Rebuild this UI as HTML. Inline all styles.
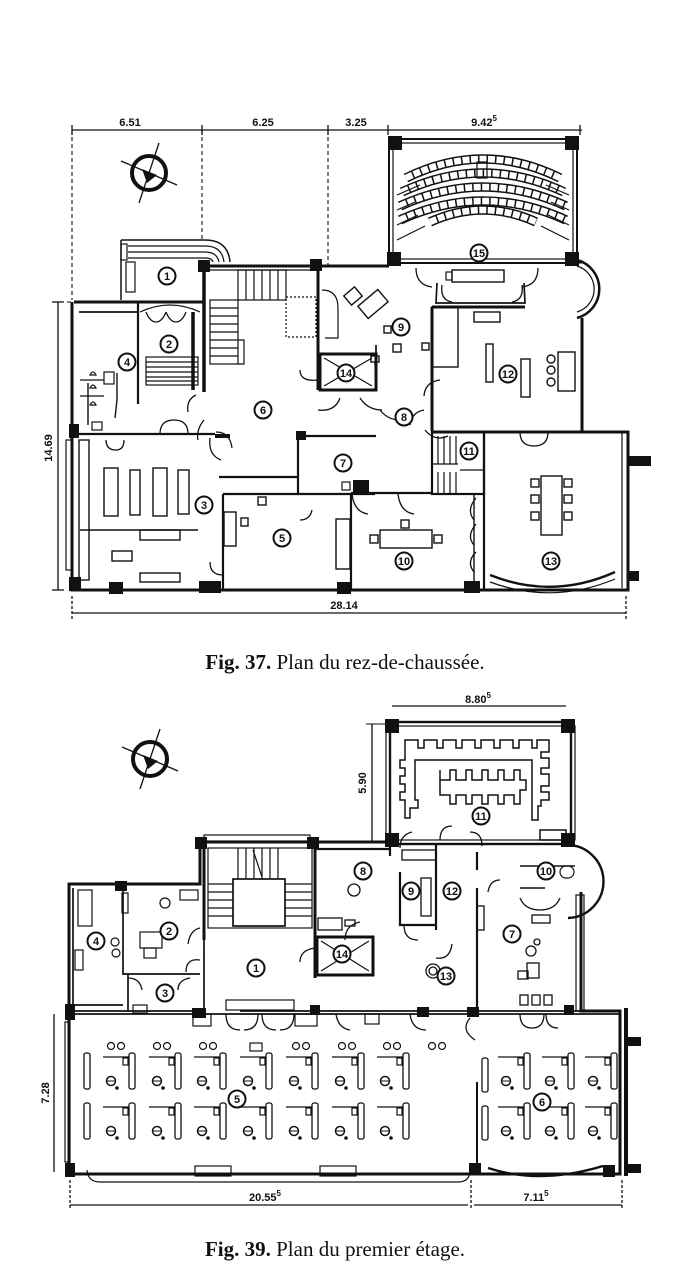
<!DOCTYPE html>
<html><head><meta charset="utf-8"><style>
html,body{margin:0;padding:0;background:#fff;}
svg{display:block}
text{font-family:"Liberation Sans",sans-serif;fill:#111}
.n{font-size:11px;font-weight:bold;text-anchor:middle}
.d{font-size:11px;font-weight:bold;text-anchor:middle}
.cap{font-family:"Liberation Serif",serif;font-size:21px;text-anchor:middle}
</style></head><body>
<svg width="700" height="1286" viewBox="0 0 700 1286" xmlns="http://www.w3.org/2000/svg">
<defs>
<g id="rn"><circle r="8.5" fill="#fff" stroke="#111" stroke-width="2"/></g>
<g id="compass"><circle r="17" fill="#fff" stroke="#111" stroke-width="4"/><line x1="-28" y1="-12" x2="28" y2="12" stroke="#111" stroke-width="1.3"/><line x1="10" y1="-30" x2="-10" y2="30" stroke="#111" stroke-width="1.3"/><path d="M-7,-4 L8,2 L-2,10 Z" fill="#111"/></g>
<g id="desk"><line x1="-28" y1="0" x2="-2" y2="0" stroke="#111" stroke-width="1.3"/><rect x="-8" y="1" width="5" height="7" fill="#fff" stroke="#111" stroke-width="1.2"/><rect x="-2" y="-4" width="6" height="36" rx="2" fill="#fff" stroke="#111" stroke-width="1.3"/><circle cx="-20" cy="24" r="4.5" fill="#fff" stroke="#111" stroke-width="1.5"/><line x1="-24" y1="24" x2="-16" y2="24" stroke="#111"/><circle cx="-14" cy="31" r="1.8" fill="#111"/></g>
</defs>

<!-- ================= FIG 37 ================= -->
<g stroke="#111" fill="none">
<line x1="72" y1="130" x2="582" y2="130" stroke-width="1.3"/>
<g stroke-width="1.3"><line x1="72" y1="125" x2="72" y2="135"/><line x1="202" y1="125" x2="202" y2="135"/><line x1="328" y1="125" x2="328" y2="135"/><line x1="388" y1="125" x2="388" y2="135"/><line x1="580" y1="125" x2="580" y2="135"/></g>
<g stroke-dasharray="4 3" stroke-width="1.1"><line x1="72" y1="130" x2="72" y2="300"/><line x1="202" y1="130" x2="202" y2="240"/><line x1="328" y1="130" x2="328" y2="268"/><line x1="60" y1="302" x2="72" y2="302"/></g>
</g>
<text class="d" x="130" y="126">6.51</text><text class="d" x="263" y="126">6.25</text><text class="d" x="356" y="126">3.25</text><text class="d" x="484" y="126">9.42<tspan font-size="8" dy="-5">5</tspan></text>
<use href="#compass" x="149" y="173"/>

<g stroke="#111" fill="none" stroke-width="2">
<rect x="389" y="139" width="188" height="124" stroke-width="2"/>
<rect x="393" y="143" width="180" height="116" stroke-width="1.2"/>
<rect x="389" y="137" width="12" height="12" fill="#111"/><rect x="566" y="137" width="12" height="12" fill="#111"/>
<rect x="388" y="253" width="12" height="12" fill="#111"/><rect x="566" y="253" width="12" height="12" fill="#111"/>
<g stroke-width="9.5"><path d="M406,178 Q483,140 560,178"/><path d="M402,192 Q483,154 564,192"/><path d="M400,206 Q483,168 566,206"/><path d="M400,220 Q483,182 566,220"/><path d="M430,222 Q483,198 536,222"/></g>
<g stroke="#fff" stroke-width="6.5" stroke-dasharray="7 1.5"><path d="M406,178 Q483,140 560,178"/><path d="M402,192 Q483,154 564,192"/><path d="M400,206 Q483,168 566,206"/><path d="M400,220 Q483,182 566,220"/><path d="M430,222 Q483,198 536,222"/></g>
<g stroke-width="1.2"><path d="M397,195 L420,185 M397,210 L415,202 M397,225 L418,215 M397,240 L425,226 M569,195 L546,185 M569,210 L551,202 M569,225 L548,215 M569,240 L541,226"/></g>
<rect x="477" y="162" width="10" height="16" stroke-width="1.2"/>
<rect x="452" y="270" width="52" height="12" stroke-width="1.4"/><rect x="446" y="272" width="6" height="8" stroke-width="1.2"/>
<path d="M577,260 A30,30 0 0 1 577,318" stroke-width="2.5"/><path d="M577,266 A24,24 0 0 1 577,312" stroke-width="1.2"/>
<path d="M121,240 L121,300 M121,240 L205,240 Q228,240 230,262" stroke-width="1.5"/>
<g stroke-width="1.2"><path d="M128,246 L205,246 Q222,246 224,262 M128,252 L205,252 Q217,252 219,262 M128,258 L205,258 Q212,258 213,262"/></g>
<rect x="121" y="244" width="6" height="16" stroke-width="1.2"/><rect x="126" y="262" width="9" height="30" stroke-width="1.2"/>
<path d="M74,302 L121,302 M121,302 L205,302 M202,266 L389,266 M577,262 L582,262 M582,318 L582,432 L628,432 L628,590 L72,590 L72,302" stroke-width="3"/>
<path d="M204,266 L204,392" stroke-width="3.5"/>
<rect x="199" y="261" width="10" height="10" fill="#111"/><rect x="311" y="260" width="10" height="10" fill="#111"/>
<line x1="209" y1="270" x2="316" y2="270" stroke-width="1.2"/>
<rect x="628" y="457" width="22" height="8" fill="#111"/><rect x="628" y="572" width="10" height="8" fill="#111"/>
<line x1="622" y1="432" x2="622" y2="588" stroke-width="1.2"/>
<rect x="66" y="440" width="6" height="130" stroke-width="1.2"/>
<rect x="70" y="425" width="8" height="12" fill="#111"/><rect x="70" y="578" width="10" height="12" fill="#111"/>
<rect x="110" y="583" width="12" height="10" fill="#111"/><rect x="200" y="582" width="20" height="10" fill="#111"/><rect x="338" y="583" width="12" height="10" fill="#111"/><rect x="465" y="582" width="14" height="10" fill="#111"/>
<path d="M138,303 L138,404" stroke-width="2.2"/>
<path d="M79,312 L138,312" stroke-width="1.7"/>
<path d="M88,383 L88,425 M117,373 L117,400 L115,418" stroke-width="1.4"/>
<path d="M72,434 L138,434 L215,434" stroke-width="2.2"/>
<path d="M193,312 L193,390" stroke-width="3.5"/>
<rect x="146" y="357" width="52" height="28" stroke-width="1.2"/>
<g stroke-width="1.2"><line x1="146" y1="362" x2="198" y2="362"/><line x1="146" y1="367" x2="198" y2="367"/><line x1="146" y1="372" x2="198" y2="372"/><line x1="146" y1="377" x2="198" y2="377"/><line x1="146" y1="381" x2="198" y2="381"/></g>
<path d="M140,312 Q170,298 200,312" stroke-width="1.2"/>
<rect x="210" y="300" width="28" height="64" stroke-width="1.2"/>
<g stroke-width="1.2"><line x1="210" y1="308" x2="238" y2="308"/><line x1="210" y1="316" x2="238" y2="316"/><line x1="210" y1="324" x2="238" y2="324"/><line x1="210" y1="332" x2="238" y2="332"/><line x1="210" y1="340" x2="238" y2="340"/><line x1="210" y1="348" x2="238" y2="348"/><line x1="210" y1="356" x2="238" y2="356"/></g>
<rect x="238" y="270" width="48" height="30" stroke-width="1.2"/>
<g stroke-width="1.2"><line x1="246" y1="270" x2="246" y2="300"/><line x1="254" y1="270" x2="254" y2="300"/><line x1="262" y1="270" x2="262" y2="300"/><line x1="270" y1="270" x2="270" y2="300"/><line x1="278" y1="270" x2="278" y2="300"/></g>
<rect x="286" y="297" width="30" height="40" stroke-width="1.2" stroke-dasharray="2 2"/>
<path d="M238,340 L244,340 L244,364 L238,364" stroke-width="1.2"/>
<path d="M318,266 L318,390" stroke-width="3"/>
<path d="M322,290 Q338,290 338,308 L338,338 L325,338" stroke-width="1.2"/>
<rect x="320" y="354" width="56" height="36" stroke-width="3"/>
<path d="M324,358 L372,386 M372,358 L324,386" stroke-width="1.2"/>
<g stroke-width="1.4"><rect x="346" y="290" width="14" height="12" transform="rotate(-40 353 296)"/><rect x="360" y="296" width="26" height="16" transform="rotate(-40 373 304)"/><rect x="384" y="326" width="7" height="7"/><rect x="393" y="344" width="8" height="8"/><rect x="422" y="343" width="7" height="7"/><rect x="371" y="356" width="8" height="6"/></g>
<path d="M376,345 L376,354 L375,365" stroke-width="1.7"/>
<path d="M432,307 L525,307 M432,307 L432,431 M432,432 L582,432" stroke-width="3"/>
<path d="M437,283 L436,303 L525,303 L524,283" stroke-width="1.7"/>
<g stroke-width="1.4"><rect x="432" y="307" width="26" height="60"/><rect x="474" y="312" width="26" height="10"/><rect x="486" y="344" width="7" height="38"/><rect x="521" y="359" width="9" height="38"/><rect x="558" y="352" width="17" height="39"/><circle cx="551" cy="359" r="4"/><circle cx="551" cy="370" r="4"/><circle cx="551" cy="382" r="4"/></g>
<path d="M298,436 L298,494 L375,494 M300,436 L376,436" stroke-width="2.2"/>
<rect x="297" y="432" width="8" height="7" fill="#111"/><rect x="354" y="481" width="14" height="12" fill="#111"/>
<rect x="342" y="482" width="8" height="8" stroke-width="1.2"/>
<path d="M215,436 L230,436" stroke-width="4"/>
<path d="M219,477 L297,477 M223,494 L223,590" stroke-width="2.2"/>
<path d="M223,494 L298,494 M351,494 L351,590 M351,493 L432,493" stroke-width="2.2"/>
<g stroke-width="1.4"><rect x="258" y="497" width="8" height="8"/><rect x="224" y="512" width="12" height="34"/><rect x="241" y="518" width="7" height="8"/><rect x="336" y="519" width="14" height="50"/></g>
<rect x="432" y="432" width="52" height="62" stroke-width="2.2"/>
<g stroke-width="1.2"><line x1="438" y1="436" x2="438" y2="464"/><line x1="444" y1="436" x2="444" y2="464"/><line x1="450" y1="436" x2="450" y2="464"/><line x1="456" y1="436" x2="456" y2="464"/><line x1="432" y1="464" x2="458" y2="464"/><line x1="438" y1="472" x2="438" y2="494"/><line x1="444" y1="472" x2="444" y2="494"/><line x1="450" y1="472" x2="450" y2="494"/><line x1="456" y1="472" x2="456" y2="494"/><line x1="460" y1="470" x2="484" y2="470"/></g>
<path d="M484,432 L484,590" stroke-width="2.2"/>
<g stroke-width="1.4"><rect x="380" y="530" width="52" height="18"/><rect x="370" y="535" width="8" height="8"/><rect x="434" y="535" width="8" height="8"/><rect x="401" y="520" width="8" height="8"/><line x1="474" y1="494" x2="474" y2="585"/></g>
<g stroke-width="1.4"><rect x="541" y="476" width="21" height="59"/><rect x="531" y="479" width="8" height="8"/><rect x="531" y="495" width="8" height="8"/><rect x="531" y="512" width="8" height="8"/><rect x="564" y="479" width="8" height="8"/><rect x="564" y="495" width="8" height="8"/><rect x="564" y="512" width="8" height="8"/></g>
<path d="M490,575 Q553,600 615,572" stroke-width="2.4"/><path d="M490,582 Q553,605 615,579" stroke-width="1.2"/>
<g stroke-width="1.4"><rect x="104" y="468" width="14" height="48"/><rect x="130" y="470" width="10" height="45"/><rect x="153" y="468" width="14" height="48"/><rect x="178" y="470" width="11" height="44"/><line x1="80" y1="530" x2="198" y2="530"/><rect x="140" y="530" width="40" height="10"/><rect x="112" y="551" width="20" height="10"/><rect x="140" y="573" width="40" height="9"/><rect x="79" y="440" width="10" height="140"/></g>
<g stroke-width="1.2"><rect x="104" y="372" width="10" height="12"/><path d="M90,375 Q93,369 96,375 Z M90,388 Q93,382 96,388 Z M90,405 Q93,399 96,405 Z"/><line x1="80" y1="380" x2="104" y2="380"/><line x1="80" y1="396" x2="104" y2="396"/><rect x="92" y="422" width="10" height="8"/></g>
<g stroke-width="1.3">
<path d="M146,312 Q150,322 156,322 Q162,322 166,312 M166,312 Q170,322 176,322 Q182,322 186,312"/>
<path d="M160,434 Q160,420 174,420 M174,420 Q188,420 188,434"/>
<path d="M196,395 Q186,400 188,412 M204,420 Q196,430 198,440"/>
<path d="M210,438 Q208,455 221,460 M216,432 Q230,432 232,448"/>
<path d="M318,380 Q300,382 300,370 M318,410 Q335,412 340,398"/>
<path d="M360,398 Q368,410 382,410 M380,410 Q388,420 400,420 M440,380 Q425,382 424,396 M425,430 Q435,442 448,436 M424,410 Q412,412 410,425"/>
<path d="M352,494 Q354,512 368,514 M398,494 Q400,512 414,514"/>
<path d="M476,498 Q466,510 474,520 M476,524 Q466,536 474,545 M476,552 Q466,562 474,572"/>
<path d="M520,432 Q520,446 534,446 M534,446 Q548,446 548,432"/>
<path d="M223,575 Q210,575 210,562"/>
<path d="M300,520 Q310,520 312,510"/>
<path d="M442,285 Q440,300 452,302 M512,302 Q524,300 522,285"/>
<path d="M416,268 Q416,285 432,287 M538,268 Q538,285 522,287"/>
<path d="M106,440 Q106,450 116,450 Q124,450 124,440"/>
</g>
</g>
<g stroke="#111" stroke-width="1.3"><line x1="72" y1="613" x2="626" y2="613"/><line x1="72" y1="596" x2="72" y2="620" stroke-dasharray="3 2"/><line x1="626" y1="596" x2="626" y2="620" stroke-dasharray="3 2"/></g>
<text class="d" x="344" y="609">28.14</text>
<g stroke="#111" stroke-width="1.3"><line x1="58" y1="302" x2="58" y2="590"/><line x1="52" y1="302" x2="64" y2="302"/><line x1="52" y1="590" x2="64" y2="590"/></g>
<text class="d" x="0" y="0" transform="translate(52,448) rotate(-90)">14.69</text>

<g>
<use href="#rn" x="167" y="276"/><text class="n" x="167" y="280">1</text>
<use href="#rn" x="169" y="344"/><text class="n" x="169" y="348">2</text>
<use href="#rn" x="204" y="505"/><text class="n" x="204" y="509">3</text>
<use href="#rn" x="127" y="362"/><text class="n" x="127" y="366">4</text>
<use href="#rn" x="282" y="538"/><text class="n" x="282" y="542">5</text>
<use href="#rn" x="263" y="410"/><text class="n" x="263" y="414">6</text>
<use href="#rn" x="343" y="463"/><text class="n" x="343" y="467">7</text>
<use href="#rn" x="404" y="417"/><text class="n" x="404" y="421">8</text>
<use href="#rn" x="401" y="327"/><text class="n" x="401" y="331">9</text>
<use href="#rn" x="404" y="561"/><text class="n" x="404" y="565" font-size="10">10</text>
<use href="#rn" x="469" y="451"/><text class="n" x="469" y="455" font-size="10">11</text>
<use href="#rn" x="508" y="374"/><text class="n" x="508" y="378" font-size="10">12</text>
<use href="#rn" x="551" y="561"/><text class="n" x="551" y="565" font-size="10">13</text>
<use href="#rn" x="346" y="373"/><text class="n" x="346" y="377" font-size="10">14</text>
<use href="#rn" x="479" y="253"/><text class="n" x="479" y="257" font-size="10">15</text>
</g>
<text class="cap" x="345" y="669"><tspan font-weight="bold">Fig. 37.</tspan> Plan du rez-de-chaussée.</text>

<!-- ================= FIG 39 ================= -->
<g stroke="#111" fill="none">
<line x1="392" y1="706" x2="566" y2="706" stroke-width="1.3"/>
<line x1="372" y1="724" x2="372" y2="842" stroke-width="1.3"/><line x1="366" y1="724" x2="386" y2="724" stroke-width="1.1"/><line x1="366" y1="842" x2="386" y2="842" stroke-width="1.1"/>
</g>
<text class="d" x="478" y="703">8.80<tspan font-size="8" dy="-5">5</tspan></text>
<text class="d" transform="translate(366,783) rotate(-90)">5.90</text>
<use href="#compass" x="150" y="759"/>

<g stroke="#111" fill="none" stroke-width="2">
<rect x="390" y="722" width="181" height="122" stroke-width="2.4"/>
<rect x="386" y="726" width="189" height="114" stroke-width="1.2"/>
<rect x="386" y="720" width="12" height="12" fill="#111"/><rect x="562" y="720" width="12" height="12" fill="#111"/>
<rect x="386" y="834" width="12" height="12" fill="#111"/><rect x="562" y="834" width="12" height="12" fill="#111"/>
<g stroke-width="1.5">
<path d="M405,748 L405,740 L418,740 L418,748 L424,748 L424,740 L437,740 L437,748 L443,748 L443,740 L456,740 L456,748 L462,748 L462,740 L475,740 L475,748 L481,748 L481,740 L494,740 L494,748 L500,748 L500,740 L513,740 L513,748 L519,748 L519,740 L532,740 L532,748 L537,748 L537,740 L549,740 L549,752 L541,752 L541,758 L549,758 L549,768 L541,768 L541,774 L549,774 L549,786 L541,786 L541,792 L549,792 L549,800 L541,800 L541,806 L538,806 L538,820 L532,820 L532,798 L532,760 L415,760 L415,800 L418,800 L418,808 L410,808 L410,818 L405,818 L405,800 L400,800 L400,792 L405,792 L405,784 L400,784 L400,776 L405,776 L405,768 L400,768 L400,760 L405,760 L405,748 Z"/>
<path d="M440,770 L440,780 L450,780 L450,770 L456,770 L456,780 L466,780 L466,770 L472,770 L472,780 L482,780 L482,770 L488,770 L488,780 L498,780 L498,770 L504,770 L504,780 L514,780 L514,770 L520,770 L520,780 L526,780 L526,790 L520,790 L520,804 L514,804 L514,795 L504,795 L504,804 L498,804 L498,795 L488,795 L488,804 L482,804 L482,795 L472,795 L472,804 L466,804 L466,795 L456,795 L456,804 L450,804 L450,795 L440,795 Z"/>
<rect x="540" y="830" width="26" height="10"/>
</g>
<path d="M200,842 L390,842 M200,842 L200,884 L69,884 L69,1174 L620,1174 L620,1011 L581,1011 L581,892" stroke-width="3"/>
<rect x="196" y="838" width="10" height="10" fill="#111"/><rect x="308" y="838" width="10" height="10" fill="#111"/>
<rect x="204" y="835" width="106" height="6" stroke-width="1.2"/>
<path d="M204,845 L204,940 M315,845 L315,978" stroke-width="3"/>
<rect x="208" y="848" width="104" height="80" stroke-width="1.2"/>
<rect x="233" y="879" width="52" height="47" stroke-width="1.7"/>
<g stroke-width="1.2"><line x1="238" y1="848" x2="238" y2="879"/><line x1="246" y1="848" x2="246" y2="879"/><line x1="254" y1="848" x2="254" y2="879"/><line x1="262" y1="848" x2="262" y2="879"/><line x1="270" y1="848" x2="270" y2="879"/><line x1="278" y1="848" x2="278" y2="879"/>
<line x1="208" y1="884" x2="233" y2="884"/><line x1="208" y1="892" x2="233" y2="892"/><line x1="208" y1="900" x2="233" y2="900"/><line x1="208" y1="908" x2="233" y2="908"/><line x1="208" y1="916" x2="233" y2="916"/>
<line x1="285" y1="884" x2="312" y2="884"/><line x1="285" y1="892" x2="312" y2="892"/><line x1="285" y1="900" x2="312" y2="900"/><line x1="285" y1="908" x2="312" y2="908"/><line x1="285" y1="916" x2="312" y2="916"/>
<line x1="253" y1="850" x2="262" y2="877"/></g>
<path d="M73,888 L73,1005 L123,1005 M123,888 L123,974 L200,974 M128,974 L128,1011" stroke-width="1.7"/>
<rect x="116" y="882" width="10" height="8" fill="#111"/>
<g stroke-width="1.2"><rect x="78" y="890" width="14" height="36"/><rect x="122" y="893" width="6" height="20"/><rect x="140" y="932" width="22" height="16"/><rect x="144" y="948" width="12" height="10"/><circle cx="115" cy="942" r="4"/><circle cx="116" cy="953" r="4"/><circle cx="165" cy="903" r="5"/><rect x="180" y="890" width="18" height="10"/><rect x="133" y="1005" width="14" height="8"/><rect x="75" y="950" width="8" height="20"/></g>
<path d="M315,849 L390,849 M390,844 L390,856 M400,872 L400,925 L436,925 M436,843 L436,930 M477,888 L477,1011 M477,852 L477,870" stroke-width="2.2"/>
<g stroke-width="1.3"><circle cx="354" cy="890" r="6"/><rect x="318" y="918" width="24" height="12"/><rect x="345" y="920" width="10" height="6"/><rect x="421" y="878" width="10" height="38"/><rect x="402" y="850" width="34" height="10"/><rect x="532" y="915" width="18" height="8"/><circle cx="531" cy="951" r="5"/><circle cx="537" cy="942" r="3"/><rect x="527" y="963" width="12" height="15"/><rect x="518" y="971" width="10" height="8"/><rect x="477" y="906" width="7" height="24"/><rect x="520" y="995" width="8" height="10"/><rect x="532" y="995" width="8" height="10"/><rect x="544" y="995" width="8" height="10"/><circle cx="433" cy="971" r="7"/><circle cx="433" cy="971" r="4"/></g>
<rect x="317" y="937" width="56" height="38" stroke-width="3"/>
<path d="M321,941 L369,971 M369,941 L321,971" stroke-width="1.2"/>
<path d="M566,845 A34,34 0 0 1 568,918" stroke-width="2.4"/>
<path d="M520,866 L575,866 M520,888 L545,888" stroke-width="1.4"/>
<rect x="560" y="866" width="14" height="12" rx="6" stroke-width="1.2"/>
<rect x="576" y="895" width="8" height="116" stroke-width="1.2"/>
<path d="M204,940 L204,1011 M69,1011 L200,1011 M240,1011 L620,1011" stroke-width="1.7"/>
<path d="M69,1014 L620,1014" stroke-width="1.7"/>
<rect x="193" y="1009" width="12" height="8" fill="#111"/><rect x="311" y="1006" width="8" height="8" fill="#111"/><rect x="418" y="1008" width="10" height="8" fill="#111"/><rect x="468" y="1008" width="10" height="8" fill="#111"/><rect x="565" y="1006" width="8" height="8" fill="#111"/>
<g stroke-width="1.2"><rect x="226" y="1000" width="68" height="10"/><rect x="193" y="1014" width="18" height="12"/><rect x="295" y="1014" width="22" height="12"/><rect x="365" y="1014" width="14" height="10"/></g>
<path d="M477,1082 L477,1174" stroke-width="2"/>
<path d="M626,1008 L626,1176" stroke-width="4"/>
<rect x="626" y="1038" width="14" height="7" fill="#111"/><rect x="626" y="1165" width="14" height="7" fill="#111"/>
<rect x="66" y="1005" width="8" height="14" fill="#111"/><rect x="66" y="1164" width="8" height="12" fill="#111"/><rect x="470" y="1164" width="10" height="10" fill="#111"/><rect x="604" y="1166" width="10" height="10" fill="#111"/>
<path d="M87,1170 Q88,1182 100,1182 L458,1182 Q470,1182 470,1170" stroke-width="1.2"/>
<rect x="195" y="1166" width="36" height="10" stroke-width="1.2"/><rect x="320" y="1166" width="36" height="10" stroke-width="1.2"/>
<path d="M488,1168 Q540,1185 603,1166" stroke-width="2.4"/>
<rect x="65" y="1022" width="5" height="140" stroke-width="1.2"/>
<g stroke-width="1.3">
<path d="M200,960 Q186,958 186,972 M200,928 Q190,930 188,944 M128,978 Q140,978 142,990 M190,978 Q178,980 178,990"/>
<path d="M315,948 Q300,950 300,962 M345,940 Q345,925 360,922"/>
<path d="M226,1014 Q226,1030 240,1030 M258,1014 Q258,1030 244,1030 M262,1014 Q262,1030 276,1030 M294,1014 Q294,1030 280,1030"/>
<path d="M336,1014 Q338,1028 350,1030 M410,1014 Q412,1030 426,1030 M470,1018 Q460,1030 475,1040"/>
<path d="M520,1014 Q520,1028 532,1028 M532,1028 Q544,1028 544,1014 M546,1014 Q546,1028 558,1028"/>
<path d="M400,848 Q400,835 412,832 M440,840 Q440,826 452,826 M470,832 Q482,832 482,846"/>
<path d="M500,880 Q490,880 488,892 M520,898 Q525,910 540,910 M540,910 Q555,910 560,898"/>
<path d="M436,958 Q450,960 452,944 M404,925 Q404,940 418,940"/>
</g>
<g stroke-width="1.3"><rect x="84" y="1053" width="6" height="36" rx="2"/><rect x="84" y="1103" width="6" height="36" rx="2"/><rect x="482" y="1058" width="6" height="34" rx="2"/><rect x="482" y="1106" width="6" height="34" rx="2"/></g>
</g>
<g>
<use href="#desk" x="131" y="1057"/><use href="#desk" x="177" y="1057"/><use href="#desk" x="222" y="1057"/><use href="#desk" x="268" y="1057"/><use href="#desk" x="314" y="1057"/><use href="#desk" x="360" y="1057"/><use href="#desk" x="405" y="1057"/>
<use href="#desk" x="131" y="1107"/><use href="#desk" x="177" y="1107"/><use href="#desk" x="222" y="1107"/><use href="#desk" x="268" y="1107"/><use href="#desk" x="314" y="1107"/><use href="#desk" x="360" y="1107"/><use href="#desk" x="405" y="1107"/>
<use href="#desk" x="526" y="1057"/><use href="#desk" x="570" y="1057"/><use href="#desk" x="613" y="1057"/>
<use href="#desk" x="526" y="1107"/><use href="#desk" x="570" y="1107"/><use href="#desk" x="613" y="1107"/>
</g>
<g fill="#fff" stroke="#111" stroke-width="1.2"><circle cx="111" cy="1046" r="3.5"/><circle cx="121" cy="1046" r="3.5"/><circle cx="157" cy="1046" r="3.5"/><circle cx="167" cy="1046" r="3.5"/><circle cx="203" cy="1046" r="3.5"/><circle cx="213" cy="1046" r="3.5"/><rect x="250" y="1043" width="12" height="8"/><circle cx="296" cy="1046" r="3.5"/><circle cx="306" cy="1046" r="3.5"/><circle cx="342" cy="1046" r="3.5"/><circle cx="352" cy="1046" r="3.5"/><circle cx="387" cy="1046" r="3.5"/><circle cx="397" cy="1046" r="3.5"/><circle cx="432" cy="1046" r="3.5"/><circle cx="442" cy="1046" r="3.5"/></g>

<g>
<use href="#rn" x="256" y="968"/><text class="n" x="256" y="972">1</text>
<use href="#rn" x="169" y="931"/><text class="n" x="169" y="935">2</text>
<use href="#rn" x="165" y="993"/><text class="n" x="165" y="997">3</text>
<use href="#rn" x="96" y="941"/><text class="n" x="96" y="945">4</text>
<use href="#rn" x="237" y="1099"/><text class="n" x="237" y="1103">5</text>
<use href="#rn" x="542" y="1102"/><text class="n" x="542" y="1106">6</text>
<use href="#rn" x="512" y="934"/><text class="n" x="512" y="938">7</text>
<use href="#rn" x="363" y="871"/><text class="n" x="363" y="875">8</text>
<use href="#rn" x="411" y="891"/><text class="n" x="411" y="895">9</text>
<use href="#rn" x="546" y="871"/><text class="n" x="546" y="875" font-size="10">10</text>
<use href="#rn" x="481" y="816"/><text class="n" x="481" y="820" font-size="10">11</text>
<use href="#rn" x="452" y="891"/><text class="n" x="452" y="895" font-size="10">12</text>
<use href="#rn" x="446" y="976"/><text class="n" x="446" y="980" font-size="10">13</text>
<use href="#rn" x="342" y="954"/><text class="n" x="342" y="958" font-size="10">14</text>
</g>
<g stroke="#111" stroke-width="1.3"><line x1="70" y1="1205" x2="468" y2="1205"/><line x1="474" y1="1205" x2="622" y2="1205"/><line x1="70" y1="1180" x2="70" y2="1210" stroke-dasharray="3 2"/><line x1="471" y1="1180" x2="471" y2="1210" stroke-dasharray="3 2"/><line x1="622" y1="1180" x2="622" y2="1210" stroke-dasharray="3 2"/>
<line x1="54" y1="1014" x2="54" y2="1172"/></g>
<text class="d" x="265" y="1201">20.55<tspan font-size="8" dy="-5">5</tspan></text>
<text class="d" x="536" y="1201">7.11<tspan font-size="8" dy="-5">5</tspan></text>
<text class="d" transform="translate(49,1093) rotate(-90)">7.28</text>
<text class="cap" x="335" y="1256"><tspan font-weight="bold">Fig. 39.</tspan> Plan du premier étage.</text>
</svg>
</body></html>
